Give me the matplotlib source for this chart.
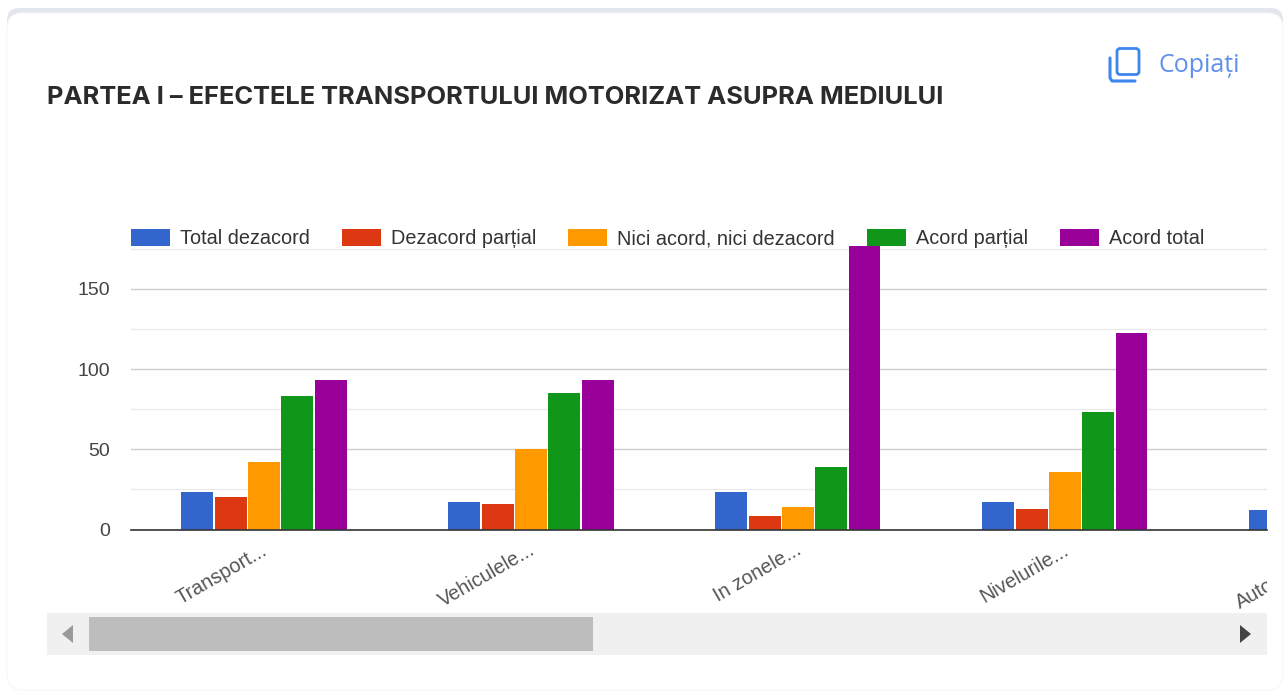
import matplotlib
matplotlib.use('Agg')
import matplotlib.pyplot as plt
import numpy as np
from matplotlib.patches import FancyBboxPatch, Rectangle, Polygon
from matplotlib.transforms import Bbox

title = 'PARTEA I – EFECTELE TRANSPORTULUI MOTORIZAT ASUPRA MEDIULUI'
copy_label = 'Copiați'
categories = ['Transport...', 'Vehiculele...', 'In zonele...', 'Nivelurile...', 'Autoturism...']
series_names = ['Total dezacord', 'Dezacord parțial', 'Nici acord, nici dezacord', 'Acord parțial', 'Acord total']
colors = ['#3366cc', '#dc3912', '#ff9900', '#109618', '#990099']

total_dezacord = [23.5, 17, 23.5, 17, 12]
dezacord_partial = [20, 16, 8.5, 13, np.nan]
nici_acord = [42, 50, 14, 36, np.nan]
acord_partial = [83, 85, 39, 73, np.nan]
acord_total = [93, 93, 176.5, 122.5, np.nan]
values = [total_dezacord, dezacord_partial, nici_acord, acord_partial, acord_total]

W, H = 1286, 693
plt.rcParams['font.family'] = ['Liberation Sans', 'DejaVu Sans']
fig = plt.figure(figsize=(W / 100, H / 100), dpi=100, facecolor='white')

# page chrome, in pixel coordinates
ui = fig.add_axes([0, 0, 1, 1])
ui.set_xlim(0, W)
ui.set_ylim(H, 0)
ui.axis('off')
ui.add_patch(FancyBboxPatch((7, 8), 1276, 60, boxstyle='round,pad=0,rounding_size=12', fc='#e3e6ed', ec='none'))
ui.add_patch(FancyBboxPatch((7, 13), 1276, 677, boxstyle='round,pad=0,rounding_size=16', fc='white', ec='#f6f7f9', lw=0.8))
ui.text(47, 98, title, family='Inter', fontweight='bold', fontsize=18.4, color='#2b2b2b', va='center')

# copy icon
ui.add_patch(FancyBboxPatch((1117, 48.5), 22, 26, boxstyle='round,pad=0,rounding_size=3', fc='none', ec='#3d86f0', lw=2))
ui.plot([1110, 1110, 1112, 1135], [58, 78, 81, 81], color='#3d86f0', lw=2.2, solid_capstyle='round')
ui.text(1159, 66, copy_label, family=['Open Sans', 'DejaVu Sans'], fontsize=18, color='#5f8fef', va='center')

# scrollbar
ui.add_patch(Rectangle((47, 613), 1220, 42, fc='#f0f0f0', ec='none'))
ui.add_patch(Rectangle((89, 617), 504, 34, fc='#bdbdbd', ec='none'))
ui.add_patch(Polygon([[73, 625], [73, 643], [62, 634]], fc='#9a9a9a', ec='none'))
ui.add_patch(Polygon([[1240, 625], [1240, 643], [1251, 634]], fc='#444444', ec='none'))

# chart
ax = fig.add_axes([131 / W, 1 - 529.5 / H, (1267 - 131) / W, (529.5 - 246) / H])
ax.patch.set_alpha(0)
x = np.arange(len(categories))
step = 0.1247
for i, name in enumerate(series_names):
    ax.bar(x + (i - 2) * step, values[i], width=step * 0.96, color=colors[i], label=name, zorder=3)

ax.set_xlim(-0.498, 3.757)
ax.set_ylim(0, 176.8)
ax.set_yticks([0, 50, 100, 150])
ax.set_yticks([25, 75, 125, 175], minor=True)
ax.set_xticks([])
ax.grid(axis='y', which='major', color='#cccccc', lw=1, zorder=1)
ax.grid(axis='y', which='minor', color='#ebebeb', lw=1, zorder=1)
ax.tick_params(axis='y', which='both', length=0)
ax.tick_params(axis='y', which='major', pad=15, labelsize=14, labelcolor='#444444')
for s in ['top', 'right', 'left']:
    ax.spines[s].set_visible(False)
ax.spines['bottom'].set_color('#333333')
ax.spines['bottom'].set_linewidth(1.2)
ax.spines['bottom'].set_zorder(4)

label_clip = Bbox([[0, 0], [1267, H]])
for i, cat in enumerate(categories):
    t = ax.annotate(cat, xy=(i, 0), xycoords=('data', 'axes fraction'), xytext=(-2, -8),
                    textcoords='offset points', ha='right', va='top', rotation=30,
                    rotation_mode='anchor', fontsize=14.3, color='#555555', annotation_clip=False)
    t.set_clip_on(True)
    t.set_clip_box(label_clip)

ax.legend(loc='center left', bbox_to_anchor=(131 / W, 1 - 238.5 / H), bbox_transform=fig.transFigure,
          ncol=5, frameon=False, borderpad=0, borderaxespad=0, fontsize=14.3, labelcolor='#333333',
          handlelength=1.96, handleheight=0.95, handletextpad=0.5, columnspacing=1.62)

plt.savefig('out.png', dpi=100)
